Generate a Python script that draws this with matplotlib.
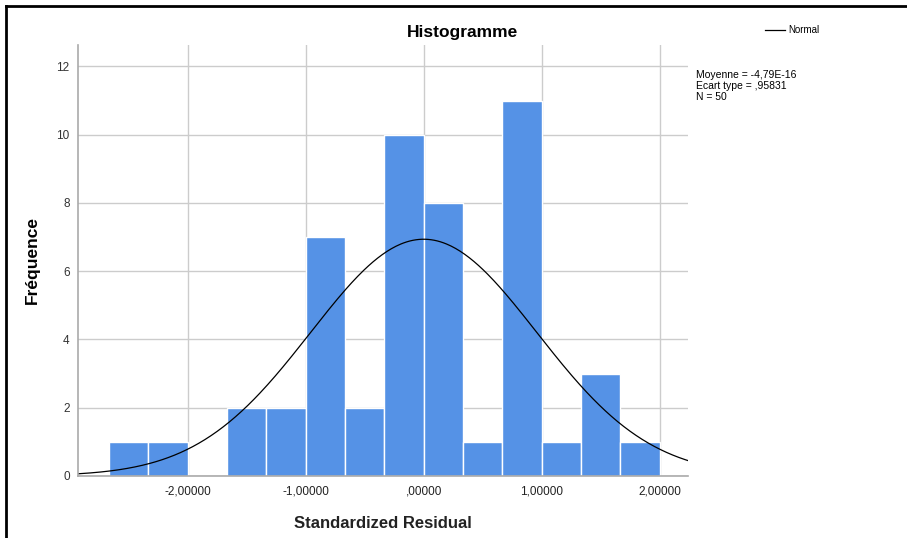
import numpy as np
import matplotlib
matplotlib.use("Agg")
import matplotlib.pyplot as plt
from matplotlib.lines import Line2D

# Data
bin_edges = [-8/3, -7/3, -2, -5/3, -4/3, -1, -2/3, -1/3, 0, 1/3, 2/3, 1, 4/3, 5/3, 2]
counts = [1, 1, 0, 2, 2, 7, 2, 10, 8, 1, 11, 1, 3, 1]
mean_val = 0.0
std_val = 0.95831
n_obs = 50
xtick_vals = [-2, -1, 0, 1, 2]
xtick_labels = ["-2,00000", "-1,00000", ",00000", "1,00000", "2,00000"]
ytick_vals = [0, 2, 4, 6, 8, 10, 12]

plt.rcParams['font.family'] = ['Liberation Sans', 'DejaVu Sans']

W, H = 907, 538
fig = plt.figure(figsize=(W/100, H/100), dpi=100)
ax = fig.add_axes([78/W, 1-476/H, (688-78)/W, (476-45)/H])

edges = np.array(bin_edges)
ax.bar(edges[:-1], counts, width=np.diff(edges), align='edge',
       color='#5592e6', edgecolor='white', linewidth=1.0, zorder=3)

xmin, xmax = -2.93, 2.24
xs = np.linspace(xmin, xmax, 400)
bw = edges[1] - edges[0]
ys = n_obs * bw / (std_val * np.sqrt(2*np.pi)) * np.exp(-0.5*((xs-mean_val)/std_val)**2)
ax.plot(xs, ys, color='black', linewidth=0.9, zorder=4)

ax.set_xlim(xmin, xmax)
ax.set_ylim(0, 12.63)
ax.set_xticks(xtick_vals)
ax.set_xticklabels(xtick_labels, fontsize=8.5, color='#222222')
ax.set_yticks(ytick_vals)
ax.set_yticklabels([str(v) for v in ytick_vals], fontsize=8.5, color='#333333')
ax.tick_params(axis='x', length=0, pad=7)
ax.tick_params(axis='y', length=0, pad=6)
ax.grid(True, color='#cccccc', linewidth=1.0, zorder=0)
ax.set_axisbelow(True)
for s in ['top', 'right']:
    ax.spines[s].set_visible(False)
for s in ['left', 'bottom']:
    ax.spines[s].set_color('#aaaaaa')
    ax.spines[s].set_linewidth(1.2)
    ax.spines[s].set_zorder(5)

ax.set_xlabel("Standardized Residual", fontsize=12, fontweight='bold',
              color='#222222', labelpad=13)
ax.set_ylabel("Fréquence", fontsize=12.5, fontweight='bold', labelpad=12)

fig.text(462/W, 1-33/H, "Histogramme", fontsize=12.5, fontweight='bold',
         ha='center', va='center')

# legend
fig.add_artist(Line2D([765/W, 785/W], [1-30/H, 1-30/H], color='black', linewidth=0.9))
fig.text(788/W, 1-30/H, "Normal", fontsize=7, ha='left', va='center')

fig.text(696/W, 1-70/H, "Moyenne = -4,79E-16\nEcart type = ,95831\nN = 50",
         fontsize=7.5, ha='left', va='top', linespacing=1.1)

# frame of screenshot
fig.add_artist(Line2D([6/W, 6/W], [0, 1-6/H], color='black', linewidth=2))
fig.add_artist(Line2D([6/W, 1], [1-6/H, 1-6/H], color='black', linewidth=2))

fig.savefig("out.png", dpi=100)
